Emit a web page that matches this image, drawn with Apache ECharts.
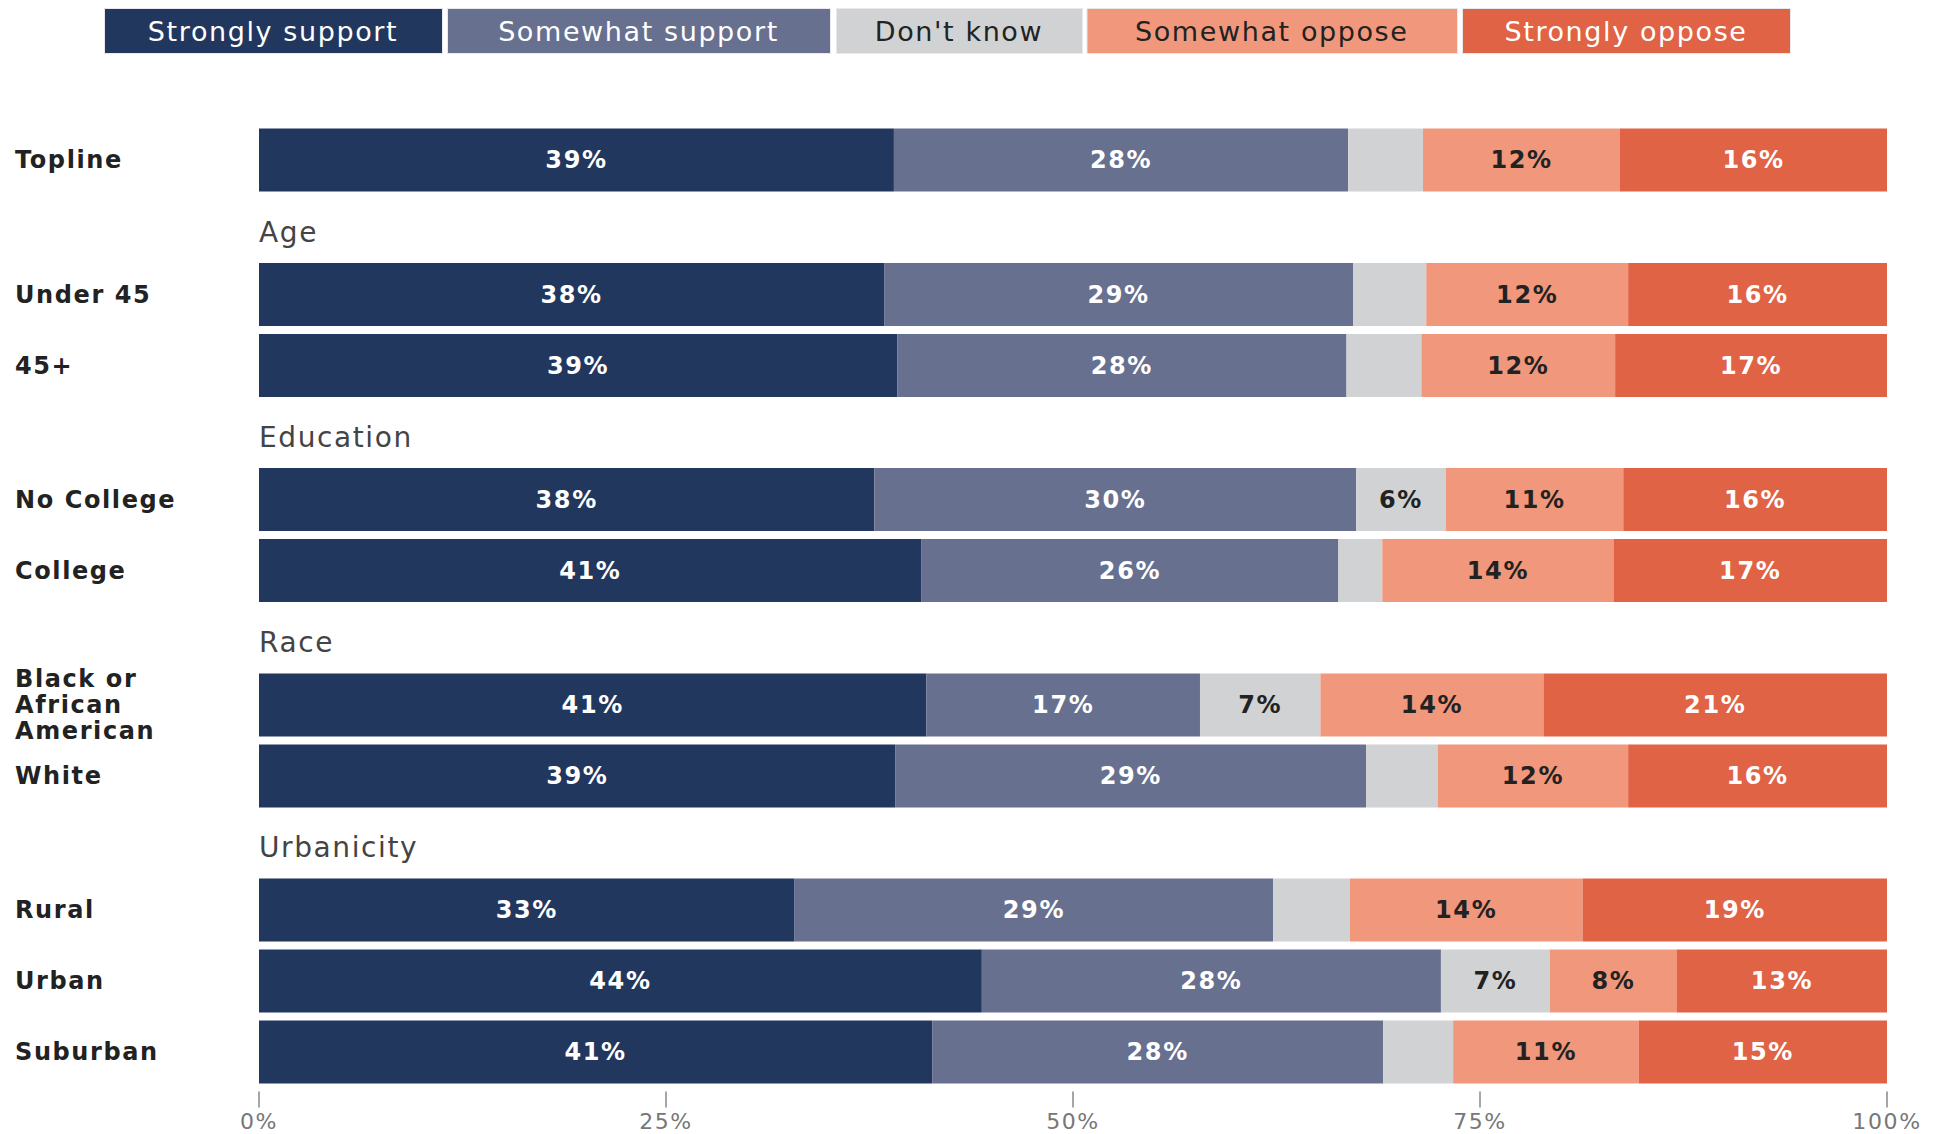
<!DOCTYPE html>
<html>
<head>
<meta charset="utf-8">
<script src="https://cdn.jsdelivr.net/npm/echarts@6/dist/echarts.min.js"></script>
<style>
html,body{margin:0;padding:0;background:#fff;}
#chart{width:1936px;height:1134px;}
#chart text{letter-spacing:1.6px;}
</style>
</head>
<body>
<div id="chart"></div>
<script>
// ---------------- data ----------------
const rowLabels = ['Topline', 'Under 45', '45+', 'No College', 'College',
  'Black or\nAfrican\nAmerican', 'White', 'Rural', 'Urban', 'Suburban'];
const rowGroup = [0, 1, 1, 2, 2, 3, 3, 4, 4, 4];
const groupTitles = ['', 'Age', 'Education', 'Race', 'Urbanicity'];
const seriesNames = ['Strongly support', 'Somewhat support', "Don't know", 'Somewhat oppose', 'Strongly oppose'];
const stronglySupport = [39.0, 38.4, 39.2, 37.8, 40.7, 41.0, 39.1, 32.9, 44.4, 41.35];
const somewhatSupport = [27.9, 28.8, 27.6, 29.6, 25.6, 16.8, 28.9, 29.4, 28.2, 27.7];
const dontKnow        = [4.6, 4.5, 4.6, 5.5, 2.7, 7.4, 4.4, 4.7, 6.7, 4.3];
const somewhatOppose  = [12.1, 12.4, 11.9, 10.9, 14.2, 13.7, 11.7, 14.3, 7.8, 11.4];
const stronglyOppose  = [16.4, 15.9, 16.8, 16.2, 16.8, 21.2, 15.9, 18.7, 12.9, 15.25];
const xTicks = [0, 25, 50, 75, 100];

// ---------------- style ----------------
const FONT = 'DejaVu Sans';
const colors = ['#22375e', '#687090', '#d1d2d4', '#f0977c', '#e06346'];
const labelColors = ['#ffffff', '#ffffff', '#222222', '#222222', '#ffffff'];
const seriesValues = [stronglySupport, somewhatSupport, dontKnow, somewhatOppose, stronglyOppose];

const LEFT = 259, RIGHT = 49, SLOT = 71, BARW = 63;
const gridTops = [124.5, 259, 464, 669.5, 874.5];
const nGroups = groupTitles.length;

const grids = [], xAxes = [], yAxes = [], series = [];
for (let g = 0; g < nGroups; g++) {
  const idx = rowLabels.map((_, i) => i).filter(i => rowGroup[i] === g);
  grids.push({left: LEFT, right: RIGHT, top: gridTops[g], height: SLOT * idx.length, containLabel: false});
  const last = g === nGroups - 1;
  xAxes.push({
    type: 'value', gridIndex: g, min: xTicks[0], max: xTicks[xTicks.length - 1],
    interval: xTicks[1] - xTicks[0],
    show: last, offset: 4,
    axisLine: {show: false},
    axisTick: {show: true, length: 16, lineStyle: {color: '#888', width: 1.5}},
    splitLine: {show: false},
    axisLabel: {show: true, margin: 19, color: '#777', fontSize: 22, fontFamily: FONT,
      formatter: v => v + '%'}
  });
  yAxes.push({
    type: 'category', gridIndex: g, inverse: true,
    data: idx.map(i => rowLabels[i]),
    axisLine: {show: false}, axisTick: {show: false}, splitLine: {show: false},
    axisLabel: {align: 'left', margin: LEFT - 15, color: '#222', fontSize: 24,
      fontWeight: 'bold', fontFamily: FONT, lineHeight: 26}
  });
  seriesNames.forEach((name, s) => {
    series.push({
      type: 'bar', name: name, stack: 'g' + g, xAxisIndex: g, yAxisIndex: g,
      barWidth: BARW,
      data: idx.map(i => seriesValues[s][i]),
      itemStyle: {color: colors[s]},
      label: {
        show: true, position: 'inside', color: labelColors[s], fontSize: 24,
        fontWeight: 'bold', fontFamily: FONT,
        formatter: p => (s === 2 && p.value < 5.5) ? '' : Math.round(p.value) + '%'
      },
      emphasis: {disabled: true}, animation: false
    });
  });
}

// legend as boxes with text inside
const legendX = [104, 447, 836, 1086.5, 1462];
const legendW = [338, 383, 246, 370.5, 328];
const graphics = [];
seriesNames.forEach((name, s) => {
  graphics.push({type: 'rect', left: legendX[s], top: 8,
    shape: {width: legendW[s], height: 45},
    style: {fill: colors[s], stroke: '#e8e8ee', lineWidth: 1}});
  graphics.push({type: 'text', x: legendX[s] + legendW[s] / 2, y: 31,
    style: {text: name, fill: labelColors[s], fontSize: 27, fontFamily: FONT,
      align: 'center', verticalAlign: 'middle'}});
});
// section headers
const headerY = [0, 232, 437, 642, 847];
groupTitles.forEach((t, g) => {
  if (!t) return;
  graphics.push({type: 'text', x: LEFT, y: headerY[g],
    style: {text: t, fill: '#444', fontSize: 28, fontFamily: FONT,
      align: 'left', verticalAlign: 'middle'}});
});

const chart = echarts.init(document.getElementById('chart'), null, {renderer: 'svg'});
chart.setOption({
  backgroundColor: '#ffffff',
  animation: false,
  grid: grids, xAxis: xAxes, yAxis: yAxes, series: series,
  graphic: graphics
});
</script>
</body>
</html>
